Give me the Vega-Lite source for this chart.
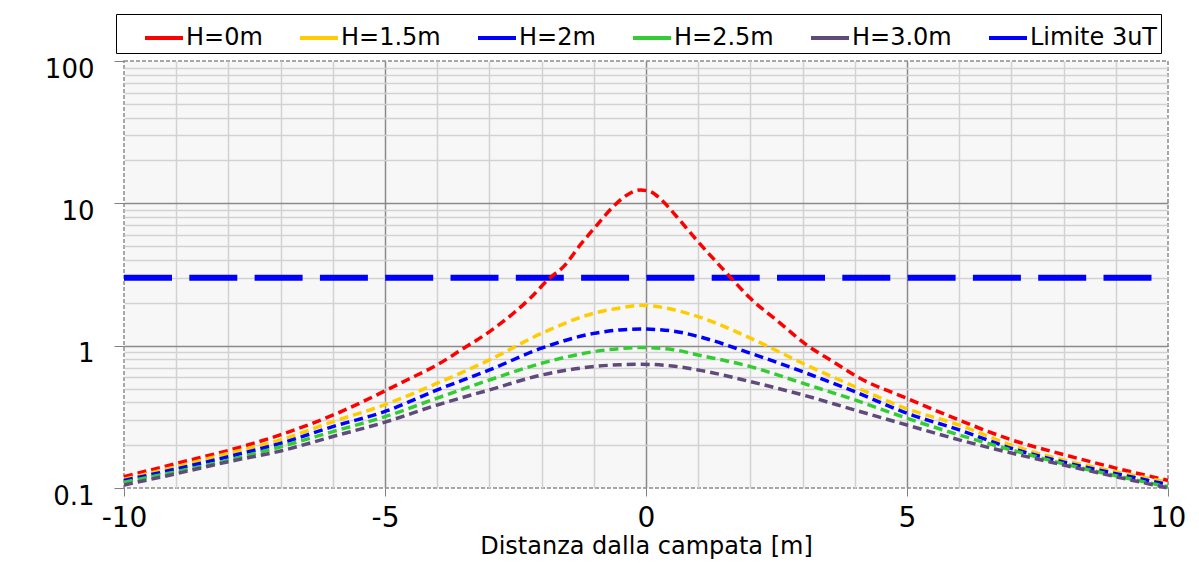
{
  "$schema": "https://vega.github.io/schema/vega-lite/v6.json",
  "width": 1044,
  "height": 427,
  "autosize": {"type": "none"},
  "padding": {"left": 124, "top": 61, "right": 31, "bottom": 75},
  "background": "white",
  "config": {
    "font": "DejaVu Sans",
    "view": {"stroke": "#8c8c8c", "strokeDash": [4, 2], "strokeWidth": 1.5, "fill": "#f7f7f7"}
  },
  "data": {
    "values": [
      {"x": -10, "B": 3, "series": "Limite 3uT"},
      {"x": 10, "B": 3, "series": "Limite 3uT"},
      {"x": -10, "B": 0.120, "series": "H=0m"},
      {"x": -8.99, "B": 0.149, "series": "H=0m"},
      {"x": -7.97, "B": 0.185, "series": "H=0m"},
      {"x": -7.01, "B": 0.236, "series": "H=0m"},
      {"x": -5.99, "B": 0.326, "series": "H=0m"},
      {"x": -5.03, "B": 0.475, "series": "H=0m"},
      {"x": -4.58, "B": 0.574, "series": "H=0m"},
      {"x": -4.01, "B": 0.73, "series": "H=0m"},
      {"x": -3.5, "B": 0.955, "series": "H=0m"},
      {"x": -2.99, "B": 1.26, "series": "H=0m"},
      {"x": -2.54, "B": 1.69, "series": "H=0m"},
      {"x": -2.22, "B": 2.15, "series": "H=0m"},
      {"x": -1.84, "B": 3.0, "series": "H=0m"},
      {"x": -1.58, "B": 3.59, "series": "H=0m"},
      {"x": -1.26, "B": 5.1, "series": "H=0m"},
      {"x": -0.94, "B": 7.04, "series": "H=0m"},
      {"x": -0.63, "B": 9.46, "series": "H=0m"},
      {"x": -0.37, "B": 11.4, "series": "H=0m"},
      {"x": -0.11, "B": 12.4, "series": "H=0m"},
      {"x": 0.08, "B": 12.1, "series": "H=0m"},
      {"x": 0.27, "B": 10.8, "series": "H=0m"},
      {"x": 0.59, "B": 8.05, "series": "H=0m"},
      {"x": 0.97, "B": 5.52, "series": "H=0m"},
      {"x": 1.49, "B": 3.4, "series": "H=0m"},
      {"x": 2.0, "B": 2.15, "series": "H=0m"},
      {"x": 2.57, "B": 1.44, "series": "H=0m"},
      {"x": 3.08, "B": 1.01, "series": "H=0m"},
      {"x": 3.59, "B": 0.77, "series": "H=0m"},
      {"x": 4.1, "B": 0.59, "series": "H=0m"},
      {"x": 4.99, "B": 0.428, "series": "H=0m"},
      {"x": 5.99, "B": 0.301, "series": "H=0m"},
      {"x": 7.0, "B": 0.218, "series": "H=0m"},
      {"x": 8.02, "B": 0.171, "series": "H=0m"},
      {"x": 9.0, "B": 0.138, "series": "H=0m"},
      {"x": 10, "B": 0.113, "series": "H=0m"},
      {"x": -10, "B": 0.115, "series": "H=1.5m"},
      {"x": -9, "B": 0.141, "series": "H=1.5m"},
      {"x": -8, "B": 0.175, "series": "H=1.5m"},
      {"x": -7, "B": 0.218, "series": "H=1.5m"},
      {"x": -6, "B": 0.292, "series": "H=1.5m"},
      {"x": -5, "B": 0.385, "series": "H=1.5m"},
      {"x": -4, "B": 0.545, "series": "H=1.5m"},
      {"x": -3, "B": 0.794, "series": "H=1.5m"},
      {"x": -2, "B": 1.22, "series": "H=1.5m"},
      {"x": -1, "B": 1.69, "series": "H=1.5m"},
      {"x": -0.5, "B": 1.84, "series": "H=1.5m"},
      {"x": -0.1, "B": 1.92, "series": "H=1.5m"},
      {"x": 0.5, "B": 1.80, "series": "H=1.5m"},
      {"x": 1, "B": 1.60, "series": "H=1.5m"},
      {"x": 2, "B": 1.13, "series": "H=1.5m"},
      {"x": 3, "B": 0.752, "series": "H=1.5m"},
      {"x": 4, "B": 0.515, "series": "H=1.5m"},
      {"x": 5, "B": 0.36, "series": "H=1.5m"},
      {"x": 6, "B": 0.277, "series": "H=1.5m"},
      {"x": 7, "B": 0.20, "series": "H=1.5m"},
      {"x": 8, "B": 0.157, "series": "H=1.5m"},
      {"x": 9, "B": 0.130, "series": "H=1.5m"},
      {"x": 10, "B": 0.11, "series": "H=1.5m"},
      {"x": -10, "B": 0.113, "series": "H=2m"},
      {"x": -9, "B": 0.136, "series": "H=2m"},
      {"x": -8, "B": 0.166, "series": "H=2m"},
      {"x": -7, "B": 0.206, "series": "H=2m"},
      {"x": -6, "B": 0.27, "series": "H=2m"},
      {"x": -5, "B": 0.345, "series": "H=2m"},
      {"x": -4, "B": 0.489, "series": "H=2m"},
      {"x": -3, "B": 0.675, "series": "H=2m"},
      {"x": -2, "B": 0.96, "series": "H=2m"},
      {"x": -1, "B": 1.22, "series": "H=2m"},
      {"x": -0.5, "B": 1.29, "series": "H=2m"},
      {"x": -0.1, "B": 1.31, "series": "H=2m"},
      {"x": 0.5, "B": 1.27, "series": "H=2m"},
      {"x": 1, "B": 1.16, "series": "H=2m"},
      {"x": 2, "B": 0.885, "series": "H=2m"},
      {"x": 3, "B": 0.656, "series": "H=2m"},
      {"x": 4, "B": 0.475, "series": "H=2m"},
      {"x": 5, "B": 0.335, "series": "H=2m"},
      {"x": 6, "B": 0.256, "series": "H=2m"},
      {"x": 7, "B": 0.19, "series": "H=2m"},
      {"x": 8, "B": 0.152, "series": "H=2m"},
      {"x": 9, "B": 0.126, "series": "H=2m"},
      {"x": 10, "B": 0.106, "series": "H=2m"},
      {"x": -10, "B": 0.11, "series": "H=2.5m"},
      {"x": -9, "B": 0.13, "series": "H=2.5m"},
      {"x": -8, "B": 0.157, "series": "H=2.5m"},
      {"x": -7, "B": 0.195, "series": "H=2.5m"},
      {"x": -6, "B": 0.249, "series": "H=2.5m"},
      {"x": -5, "B": 0.317, "series": "H=2.5m"},
      {"x": -4, "B": 0.428, "series": "H=2.5m"},
      {"x": -3, "B": 0.574, "series": "H=2.5m"},
      {"x": -2, "B": 0.752, "series": "H=2.5m"},
      {"x": -1, "B": 0.908, "series": "H=2.5m"},
      {"x": -0.5, "B": 0.955, "series": "H=2.5m"},
      {"x": -0.1, "B": 0.97, "series": "H=2.5m"},
      {"x": 0.5, "B": 0.94, "series": "H=2.5m"},
      {"x": 1, "B": 0.86, "series": "H=2.5m"},
      {"x": 2, "B": 0.713, "series": "H=2.5m"},
      {"x": 3, "B": 0.545, "series": "H=2.5m"},
      {"x": 4, "B": 0.416, "series": "H=2.5m"},
      {"x": 5, "B": 0.309, "series": "H=2.5m"},
      {"x": 6, "B": 0.236, "series": "H=2.5m"},
      {"x": 7, "B": 0.185, "series": "H=2.5m"},
      {"x": 8, "B": 0.148, "series": "H=2.5m"},
      {"x": 9, "B": 0.122, "series": "H=2.5m"},
      {"x": 10, "B": 0.102, "series": "H=2.5m"},
      {"x": -10, "B": 0.105, "series": "H=3.0m"},
      {"x": -9, "B": 0.126, "series": "H=3.0m"},
      {"x": -8, "B": 0.153, "series": "H=3.0m"},
      {"x": -7, "B": 0.182, "series": "H=3.0m"},
      {"x": -6, "B": 0.230, "series": "H=3.0m"},
      {"x": -5, "B": 0.29, "series": "H=3.0m"},
      {"x": -4, "B": 0.383, "series": "H=3.0m"},
      {"x": -3, "B": 0.489, "series": "H=3.0m"},
      {"x": -2, "B": 0.622, "series": "H=3.0m"},
      {"x": -1, "B": 0.713, "series": "H=3.0m"},
      {"x": -0.5, "B": 0.735, "series": "H=3.0m"},
      {"x": -0.1, "B": 0.74, "series": "H=3.0m"},
      {"x": 0.5, "B": 0.72, "series": "H=3.0m"},
      {"x": 1, "B": 0.675, "series": "H=3.0m"},
      {"x": 2, "B": 0.559, "series": "H=3.0m"},
      {"x": 3, "B": 0.451, "series": "H=3.0m"},
      {"x": 4, "B": 0.353, "series": "H=3.0m"},
      {"x": 5, "B": 0.277, "series": "H=3.0m"},
      {"x": 6, "B": 0.218, "series": "H=3.0m"},
      {"x": 7, "B": 0.176, "series": "H=3.0m"},
      {"x": 8, "B": 0.145, "series": "H=3.0m"},
      {"x": 9, "B": 0.12, "series": "H=3.0m"},
      {"x": 10, "B": 0.10, "series": "H=3.0m"}
    ]
  },
  "encoding": {
    "x": {
      "field": "x",
      "type": "quantitative",
      "scale": {"domain": [-10, 10], "nice": false, "zero": false},
      "axis": {
        "title": "Distanza dalla campata [m]",
        "titleFontSize": 24,
        "titleFontWeight": "normal",
        "titleColor": "black",
        "titlePadding": 2,
        "values": [-10, -9, -8, -7, -6, -5, -4, -3, -2, -1, 0, 1, 2, 3, 4, 5, 6, 7, 8, 9, 10],
        "labelExpr": "datum.value % 5 === 0 ? ('' + datum.value) : ''",
        "labelFontSize": 28,
        "labelColor": "black",
        "labelFlush": false,
        "labelOverlap": false,
        "labelBound": false,
        "labelPadding": 8,
        "labelBaseline": "top",
        "domain": false,
        "tickSize": 8,
        "tickWidth": 1,
        "tickColor": {"condition": {"test": "datum.value % 5 === 0", "value": "#808080"}, "value": "transparent"},
        "grid": true,
        "gridColor": {"condition": {"test": "datum.value % 5 === 0", "value": "#8a8a8a"}, "value": "#d2d2d2"},
        "gridWidth": 1.5,
        "gridOpacity": {"condition": {"test": "abs(datum.value) === 10", "value": 0}, "value": 1}
      }
    },
    "y": {
      "field": "B",
      "type": "quantitative",
      "scale": {"type": "log", "domain": [0.1, 100], "nice": false},
      "axis": {
        "title": null,
        "values": [0.1, 0.2, 0.3, 0.4, 0.5, 0.6, 0.7, 0.8, 0.9, 1, 2, 3, 4, 5, 6, 7, 8, 9, 10, 20, 30, 40, 50, 60, 70, 80, 90, 100],
        "labelExpr": "datum.value == 0.1 ? '0.1' : datum.value == 1 ? '1' : datum.value == 10 ? '10' : datum.value == 100 ? '100' : ''",
        "labelFontSize": 26,
        "labelColor": "black",
        "labelFlush": false,
        "labelOverlap": false,
        "labelBound": false,
        "labelPadding": 20,
        "labelBaseline": "alphabetic",
        "labelOffset": 16,
        "domain": false,
        "tickSize": 10,
        "tickWidth": 1,
        "tickColor": {"condition": {"test": "datum.value == 0.1 || datum.value == 1 || datum.value == 10 || datum.value == 100", "value": "#808080"}, "value": "transparent"},
        "grid": true,
        "gridColor": {"condition": {"test": "datum.value == 1 || datum.value == 10", "value": "#8a8a8a"}, "value": "#d2d2d2"},
        "gridWidth": 1.5,
        "gridOpacity": {"condition": {"test": "datum.value == 0.1 || datum.value == 100", "value": 0}, "value": 1}
      }
    },
    "color": {
      "field": "series",
      "type": "nominal",
      "scale": {
        "domain": ["H=0m", "H=1.5m", "H=2m", "H=2.5m", "H=3.0m", "Limite 3uT"],
        "range": ["#ff0000", "#ffcc00", "#0000ff", "#33cc33", "#604a7b", "#0000ff"]
      },
      "legend": {
        "title": " ",
        "titleOrient": "left",
        "titleFontSize": 2,
        "titlePadding": 24,
        "orient": "none",
        "legendX": -8,
        "legendY": -47,
        "direction": "horizontal",
        "symbolType": "stroke",
        "symbolSize": 1444,
        "symbolStrokeWidth": 4,
        "labelFontSize": 24,
        "labelColor": "black",
        "labelOffset": 1,
        "labelLimit": 300,
        "columnPadding": 29,
        "padding": 3,
        "strokeColor": "black",
        "fillColor": "white"
      }
    }
  },
  "layer": [
    {
      "transform": [{"filter": "datum.series === 'Limite 3uT'"}],
      "mark": {"type": "line", "strokeWidth": 6, "strokeDash": [48, 17.3], "strokeCap": "butt"}
    },
    {
      "transform": [{"filter": "datum.series !== 'Limite 3uT'"}],
      "mark": {"type": "line", "strokeWidth": 3.5, "strokeDash": [9, 5], "interpolate": "monotone"}
    }
  ]
}
